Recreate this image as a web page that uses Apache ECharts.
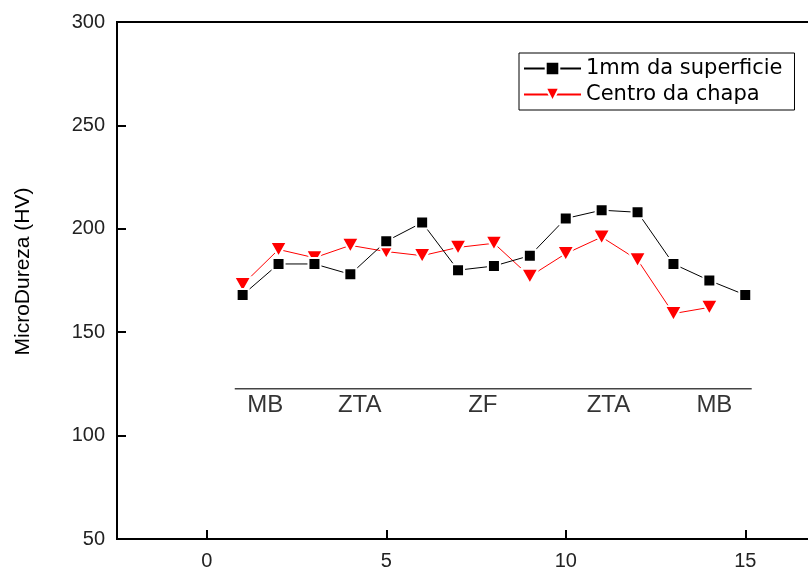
<!DOCTYPE html>
<html>
<head>
<meta charset="utf-8">
<script src="https://cdn.jsdelivr.net/npm/echarts@6/dist/echarts.min.js"></script>
<style>
  html, body { margin: 0; padding: 0; background: #fff; overflow: hidden; }
  #chart { width: 835px; height: 568px; }
</style>
</head>
<body>
<div id="chart"></div>
<script>
// posições das medidas (x) e microdureza (HV)
const positions = [1, 2, 3, 4, 5, 6, 7, 8, 9, 10, 11, 12, 13, 14, 15];
const superficie = [168, 183, 183, 178, 194, 203, 180, 182, 187, 205, 209, 208, 183, 175, 168];
const centro = [173, 190, 186, 192, 189, 187, 191, 193, 177, 188, 196, 185, 159, 162];

// regiões da junta soldada
const zoneNames = ['MB', 'ZTA', 'ZF', 'ZTA', 'MB'];
const zoneX = [1.63, 4.26, 7.69, 11.19, 14.14];
const zoneLabelY = 114.5;
const zoneLineX = [0.78, 15.18];
const zoneLineY = 122.7;

const xTicks = [0, 5, 10, 15];

const font = 'Liberation Sans, Arial, sans-serif';

const chart = echarts.init(document.getElementById('chart'));

const pair = (xs, ys) => ys.map((v, i) => [xs[i], v]);

chart.setOption({
  animation: false,
  backgroundColor: '#fff',
  grid: {
    left: 117, right: 0, top: 22, bottom: 29,
    containLabel: false, outerBoundsMode: 'none',
    show: true, borderColor: '#000', borderWidth: 2
  },
  legend: {
    orient: 'vertical',
    left: 519, top: 53,
    padding: [5, 12, 5, 4],
    itemWidth: 57, itemHeight: 17, itemGap: 5,
    borderColor: '#000', borderWidth: 1,
    textStyle: { fontFamily: 'DejaVu Sans, sans-serif', fontSize: 21, color: '#000' },
    data: ['1mm da superficie', 'Centro da chapa']
  },
  xAxis: {
    type: 'value', min: -2.5, max: 17.5,
    axisLine: { show: true, lineStyle: { color: '#000', width: 2 } },
    axisTick: {
      show: true, inside: true, length: 9, customValues: xTicks,
      lineStyle: { color: '#000', width: 2 }
    },
    axisLabel: {
      margin: 12, fontFamily: font, fontSize: 20, color: '#222',
      customValues: xTicks
    },
    splitLine: { show: false }
  },
  yAxis: {
    type: 'value', min: 50, max: 300, interval: 50,
    name: 'MicroDureza (HV)', nameLocation: 'middle', nameGap: 83,
    nameTextStyle: { fontFamily: font, fontSize: 21, color: '#000', padding: [0, 0, 0, 18] },
    axisLine: { show: true, onZero: false, lineStyle: { color: '#000', width: 2 } },
    axisTick: { show: true, inside: true, length: 9, lineStyle: { color: '#000', width: 2 } },
    axisLabel: { margin: 12, fontFamily: font, fontSize: 20, color: '#222' },
    splitLine: { show: false }
  },
  series: [
    {
      name: '1mm da superficie',
      type: 'line',
      data: pair(positions, superficie),
      symbol: 'rect', symbolSize: 12,
      lineStyle: { color: '#000', width: 1 },
      itemStyle: { color: '#000', borderColor: '#fff', borderWidth: 2 },
      z: 3
    },
    {
      name: 'Centro da chapa',
      type: 'line',
      data: pair(positions, centro),
      symbol: 'triangle', symbolSize: [17, 15], symbolRotate: 180,
      lineStyle: { color: '#ff0000', width: 1 },
      itemStyle: { color: '#ff0000', borderColor: '#fff', borderWidth: 2 },
      z: 2
    },
    {
      name: 'zonas',
      type: 'line',
      data: zoneLineX.map(x => [x, zoneLineY]),
      symbol: 'none',
      lineStyle: { color: '#444', width: 1.5 },
      silent: true
    },
    {
      name: 'rotulos',
      type: 'scatter',
      data: zoneX.map((x, i) => ({ value: [x, zoneLabelY], name: zoneNames[i] })),
      symbolSize: 0,
      label: {
        show: true, position: 'inside',
        formatter: p => p.name,
        fontFamily: font, fontSize: 24, color: '#000'
      },
      silent: true
    }
  ]
});
</script>
</body>
</html>
